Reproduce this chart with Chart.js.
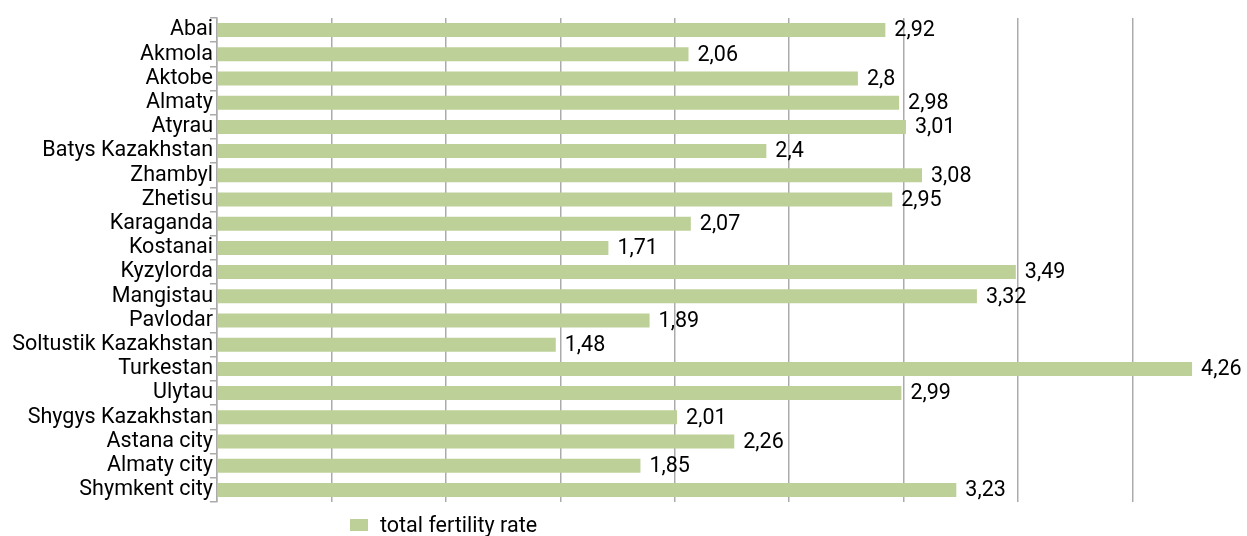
<!DOCTYPE html>
<html>
<head>
<meta charset="utf-8">
<script src="https://cdn.jsdelivr.net/npm/chart.js@4.4.1/dist/chart.umd.min.js"></script>
<style>
    html, body { margin: 0; padding: 0; background: #fff; }
    #wrap { position: relative; width: 1247px; height: 536px; }
    #legend {
        position: absolute; left: 350px; top: 512px;
        font: 21.5px Roboto, sans-serif; color: #000;
        display: flex; align-items: center;
    }
    #legend span.box { display: inline-block; width: 18px; height: 12px; background: #bdd097; margin-right: 12px; }
</style>
</head>
<body>
<div id="wrap">
    <canvas id="chart" width="1247" height="536"></canvas>
    <div id="legend"><span class="box"></span>total fertility rate</div>
</div>
<script>
const regions = [
    'Abai', 'Akmola', 'Aktobe', 'Almaty', 'Atyrau', 'Batys Kazakhstan', 'Zhambyl',
    'Zhetisu', 'Karaganda', 'Kostanai', 'Kyzylorda', 'Mangistau', 'Pavlodar',
    'Soltustik Kazakhstan', 'Turkestan', 'Ulytau', 'Shygys Kazakhstan',
    'Astana city', 'Almaty city', 'Shymkent city'
];
const fertilityRate = [
    2.92, 2.06, 2.8, 2.98, 3.01, 2.4, 3.08, 2.95, 2.07, 1.71,
    3.49, 3.32, 1.89, 1.48, 4.26, 2.99, 2.01, 2.26, 1.85, 3.23
];
const seriesName = 'total fertility rate';

const GRID = '#ababab';
const BAR = '#bdd097';
const FONT_SIZE = 21.5;

// value labels at the end of each bar, decimal comma
const valueLabels = {
    id: 'valueLabels',
    afterDatasetsDraw(chart) {
        const ctx = chart.ctx;
        const meta = chart.getDatasetMeta(0);
        ctx.save();
        ctx.font = FONT_SIZE + 'px Roboto, sans-serif';
        ctx.fillStyle = '#000';
        ctx.textAlign = 'left';
        ctx.textBaseline = 'middle';
        meta.data.forEach((bar, i) => {
            const txt = String(fertilityRate[i]).replace('.', ',');
            ctx.fillText(txt, bar.x + 9, bar.y + 1);
        });
        ctx.restore();
    }
};

new Chart(document.getElementById('chart'), {
    type: 'bar',
    data: {
        labels: regions,
        datasets: [{
            label: seriesName,
            data: fertilityRate,
            backgroundColor: BAR,
            borderWidth: 0,
            barPercentage: 0.58,
            categoryPercentage: 1
        }]
    },
    options: {
        indexAxis: 'y',
        responsive: false,
        animation: false,
        layout: { padding: { top: 18, bottom: 34, right: 0, left: 0 } },
        plugins: {
            legend: { display: false },
            tooltip: { enabled: false }
        },
        scales: {
            x: {
                min: 0,
                max: 4.5,
                ticks: { display: false, stepSize: 0.5 },
                grid: {
                    color: (c) => (c.tick && c.tick.value >= 4.5) ? 'rgba(0,0,0,0)' : GRID,
                    lineWidth: 1.5,
                    drawTicks: false
                },
                border: { display: false }
            },
            y: {
                afterFit: (scale) => { scale.width = 217; },
                ticks: {
                    color: '#000',
                    font: { family: 'Roboto', size: FONT_SIZE },
                    padding: -3,
                    autoSkip: false
                },
                grid: {
                    offset: true,
                    drawOnChartArea: false,
                    color: GRID,
                    lineWidth: 1.5,
                    tickLength: 7
                },
                border: { display: true, color: GRID, width: 1.5 }
            }
        }
    },
    plugins: [valueLabels]
});
</script>
</body>
</html>
